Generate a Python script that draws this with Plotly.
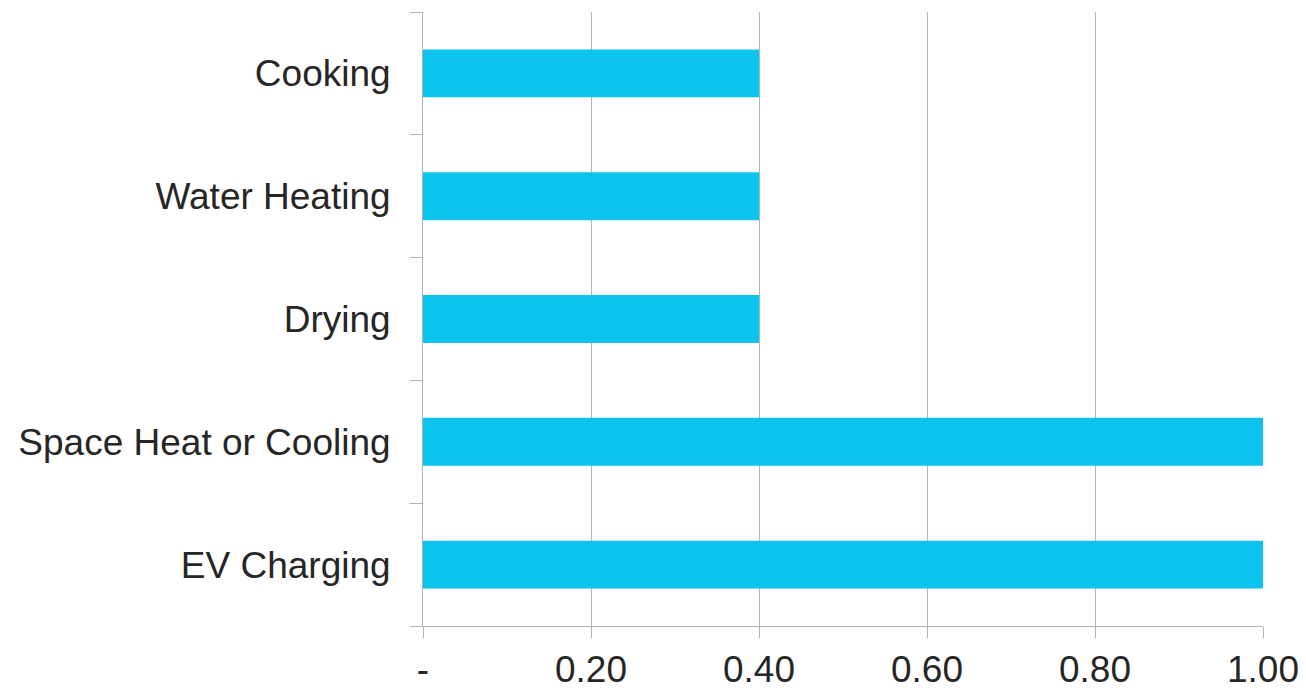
import plotly.graph_objects as go

# Categories listed bottom-to-top (Plotly draws the first category at the bottom)
categories = ["EV Charging", "Space Heat or Cooling", "Drying", "Water Heating", "Cooking"]
values = [1.0, 1.0, 0.4, 0.4, 0.4]

tick_values = [0, 0.2, 0.4, 0.6, 0.8, 1.0]
tick_labels = ["-", "0.20", "0.40", "0.60", "0.80", "1.00"]

axis_grey = "#b4b4b4"
text_col = "#262626"
bar_col = "#0bc3ec"

fig = go.Figure(
    go.Bar(
        x=values,
        y=categories,
        orientation="h",
        marker=dict(color=bar_col, line=dict(width=0)),
        hoverinfo="x+y",
    )
)

fig.update_layout(
    width=1306,
    height=688,
    margin=dict(l=423, r=43, t=12, b=62, pad=0),
    paper_bgcolor="white",
    plot_bgcolor="white",
    bargap=0.61,
    showlegend=False,
    font=dict(family="Liberation Sans, Arial, sans-serif", size=37, color=text_col),
)

fig.update_xaxes(
    range=[0, 1.0],
    tickvals=tick_values,
    ticktext=tick_labels,
    automargin=False,
    showgrid=True,
    gridcolor=axis_grey,
    gridwidth=1,
    zeroline=False,
    showline=True,
    linecolor=axis_grey,
    linewidth=1,
    ticks="outside",
    ticklen=11,
    tickcolor=axis_grey,
    tickwidth=1,
    tickfont=dict(size=37, color=text_col),
)

fig.update_yaxes(
    automargin=False,
    showgrid=False,
    zeroline=False,
    showline=True,
    linecolor=axis_grey,
    linewidth=1,
    ticks="outside",
    tickson="boundaries",
    ticklen=12,
    tickcolor=axis_grey,
    tickwidth=1,
    ticklabelstandoff=24,
    tickfont=dict(size=37, color=text_col),
)

fig.write_html("out.html")
